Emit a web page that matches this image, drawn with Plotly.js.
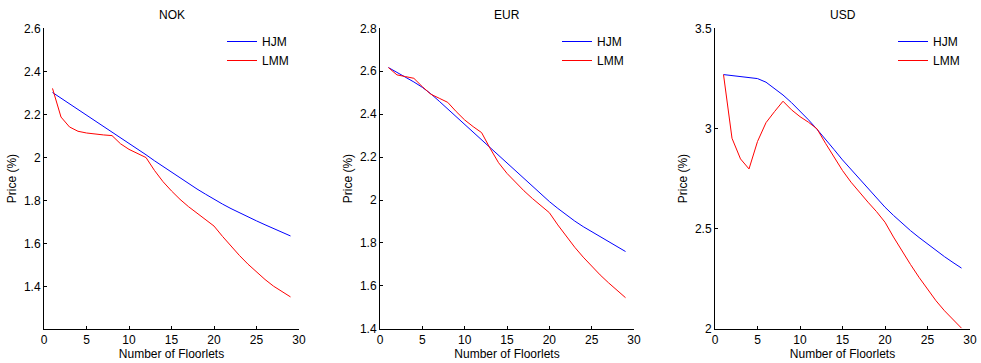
<!DOCTYPE html>
<html>
<head>
<meta charset="utf-8">
<script src="https://cdn.plot.ly/plotly-3.0.1.min.js"></script>
<style>html,body{margin:0;padding:0;background:#fff;}#chart{width:981px;height:363px;}</style>
</head>
<body>
<div id="chart"></div>
<script>
var floorlets = [1,2,3,4,5,6,7,8,9,10,11,12,13,14,15,16,17,18,19,20,21,22,23,24,25,26,27,28,29];

var panelTitles = ['NOK', 'EUR', 'USD'];
var seriesNames = ['HJM', 'LMM'];

var nokHJM = [2.302,2.276,2.249,2.223,2.197,2.171,2.144,2.118,2.092,2.065,2.039,2.013,1.985,1.958,1.931,1.905,1.879,1.854,1.830,1.806,1.784,1.763,1.743,1.724,1.706,1.688,1.670,1.653,1.636];
var nokLMM = [2.321,2.188,2.142,2.122,2.114,2.108,2.105,2.102,2.064,2.038,2.018,2.000,1.940,1.888,1.845,1.806,1.772,1.741,1.712,1.682,1.634,1.588,1.545,1.505,1.468,1.434,1.403,1.377,1.353];

var eurHJM = [2.617,2.595,2.572,2.550,2.525,2.495,2.460,2.424,2.388,2.352,2.317,2.281,2.245,2.208,2.171,2.134,2.097,2.061,2.026,1.993,1.961,1.931,1.902,1.876,1.852,1.829,1.807,1.784,1.760];
var eurLMM = [2.617,2.583,2.575,2.567,2.528,2.493,2.474,2.455,2.412,2.373,2.342,2.314,2.241,2.174,2.124,2.082,2.043,2.007,1.973,1.941,1.884,1.830,1.780,1.734,1.691,1.651,1.614,1.579,1.545];

var usdHJM = [3.269,3.264,3.259,3.254,3.249,3.231,3.201,3.167,3.129,3.087,3.043,2.996,2.948,2.895,2.843,2.795,2.748,2.701,2.654,2.607,2.566,2.527,2.490,2.456,2.423,2.391,2.360,2.331,2.303];
var usdLMM = [3.269,2.951,2.848,2.798,2.935,3.029,3.084,3.136,3.093,3.059,3.031,2.998,2.926,2.855,2.790,2.732,2.680,2.632,2.585,2.532,2.458,2.388,2.321,2.257,2.196,2.140,2.090,2.044,2.003];

var xTicks = [0,5,10,15,20,25,30];
var yTicksNOK = [1.4,1.6,1.8,2,2.2,2.4,2.6];
var yTicksEUR = [1.4,1.6,1.8,2,2.2,2.4,2.6,2.8];
var yTicksUSD = [2,2.5,3,3.5];
var yTextNOK = ['1.4','1.6','1.8','2','2.2','2.4','2.6'];
var yTextEUR = ['1.4','1.6','1.8','2','2.2','2.4','2.6','2.8'];
var yTextUSD = ['2','2.5','3','3.5'];

var W = 981, H = 363;
var FONT = 'Liberation Sans, Arial, Helvetica, sans-serif';
var colors = ['#0000ff', '#ff0000'];

var panels = [
  {hjm: nokHJM, lmm: nokLMM, yt: yTicksNOK, ytt: yTextNOK, yr: [1.205, 2.6], px: [44, 299]},
  {hjm: eurHJM, lmm: eurLMM, yt: yTicksEUR, ytt: yTextEUR, yr: [1.4, 2.8], px: [380, 634]},
  {hjm: usdHJM, lmm: usdLMM, yt: yTicksUSD, ytt: yTextUSD, yr: [2, 3.5], px: [715, 970]}
];

var plotTop = 28.3, plotBottom = 328.8;
var yDom = [1 - plotBottom / H, 1 - plotTop / H];

var data = [];
var layout = {
  width: W, height: H,
  margin: {l: 0, r: 0, t: 0, b: 0},
  paper_bgcolor: '#ffffff', plot_bgcolor: '#ffffff',
  font: {family: FONT, size: 12, color: '#000000'},
  annotations: []
};

panels.forEach(function (p, i) {
  var n = i === 0 ? '' : String(i + 1);
  var legName = 'legend' + n;
  [p.hjm, p.lmm].forEach(function (vals, k) {
    data.push({
      type: 'scatter', mode: 'lines',
      x: floorlets, y: vals,
      name: seriesNames[k],
      xaxis: 'x' + n, yaxis: 'y' + n,
      legend: legName,
      line: {color: colors[k], width: 1},
      hoverinfo: 'skip'
    });
  });
  layout['xaxis' + n] = {
    domain: [p.px[0] / W, p.px[1] / W],
    anchor: 'y' + n,
    range: [0, 30],
    tickmode: 'array', tickvals: xTicks, ticktext: xTicks.map(String),
    ticks: 'inside', ticklen: 3, tickwidth: 1, tickcolor: '#000',
    showline: true, linecolor: '#000', linewidth: 1,
    showgrid: false, zeroline: false, mirror: false,
    tickfont: {family: FONT, size: 12, color: '#000'},
    title: {text: 'Number of Floorlets', font: {family: FONT, size: 12, color: '#000'}, standoff: 2},
    automargin: false, fixedrange: true
  };
  layout['yaxis' + n] = {
    domain: yDom,
    anchor: 'x' + n,
    range: p.yr,
    tickmode: 'array', tickvals: p.yt, ticktext: p.ytt,
    ticks: 'inside', ticklen: 3, tickwidth: 1, tickcolor: '#000',
    showline: true, linecolor: '#000', linewidth: 1,
    showgrid: false, zeroline: false, mirror: false,
    tickfont: {family: FONT, size: 12, color: '#000'},
    title: {text: 'Price (%)', font: {family: FONT, size: 12, color: '#000'}, standoff: 4},
    automargin: false, fixedrange: true
  };
  layout[legName] = {
    x: (p.px[1] - 77) / W, xanchor: 'left',
    y: 1 - 27 / H, yanchor: 'top',
    bgcolor: 'rgba(0,0,0,0)', borderwidth: 0,
    font: {family: FONT, size: 12, color: '#000'},
    tracegroupgap: 0
  };
  layout.annotations.push({
    text: panelTitles[i],
    xref: 'x' + n + ' domain', yref: 'paper',
    x: 0.5, y: 1 - 15 / H, xanchor: 'center', yanchor: 'middle',
    showarrow: false,
    font: {family: FONT, size: 12, color: '#000'}
  });
});

Plotly.newPlot('chart', data, layout, {staticPlot: true, displayModeBar: false});
</script>
</body>
</html>
